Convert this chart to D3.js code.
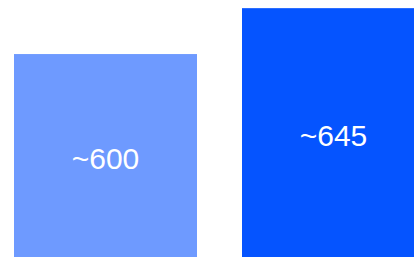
<!DOCTYPE html>
<html>
<head>
<meta charset="utf-8">
<script src="https://cdn.jsdelivr.net/npm/d3@7"></script>
<style>
  html, body { margin: 0; padding: 0; background: #fff; overflow: hidden; }
  svg { display: block; }
</style>
</head>
<body>
<svg id="chart" width="414" height="257"></svg>
<script>
const categories = ['A', 'B'];
const values = [600, 645];
const labels = ['~600', '~645'];
const colors = ['#6e9aff', '#0554ff'];

const width = 414;
const height = 257;

const svg = d3.select('#chart');

// bars run a little past the right edge, so the band range is wider than the view
const x = d3.scaleBand()
  .domain(categories)
  .range([14, 425])
  .paddingInner(45 / 228)
  .paddingOuter(0);

const y = d3.scaleLinear()
  .domain([401, 653])
  .range([height, 0]);

const bars = svg.append('g')
  .selectAll('g.bar')
  .data(categories.map((c, i) => ({ c, v: values[i], label: labels[i], color: colors[i] })))
  .join('g')
  .attr('class', 'bar');

bars.append('rect')
  .attr('x', (d) => x(d.c))
  .attr('y', (d) => y(d.v))
  .attr('width', x.bandwidth())
  .attr('height', (d) => height - y(d.v))
  .attr('fill', (d) => d.color);

bars.append('text')
  .attr('x', (d) => x(d.c) + x.bandwidth() / 2)
  .attr('y', (d) => (y(d.v) + height) / 2 + 3)
  .attr('text-anchor', 'middle')
  .attr('dominant-baseline', 'central')
  .attr('fill', '#fff')
  .style('font-family', 'Liberation Sans, Arial, sans-serif')
  .style('font-size', '30px')
  .text((d) => d.label);
</script>
</body>
</html>
